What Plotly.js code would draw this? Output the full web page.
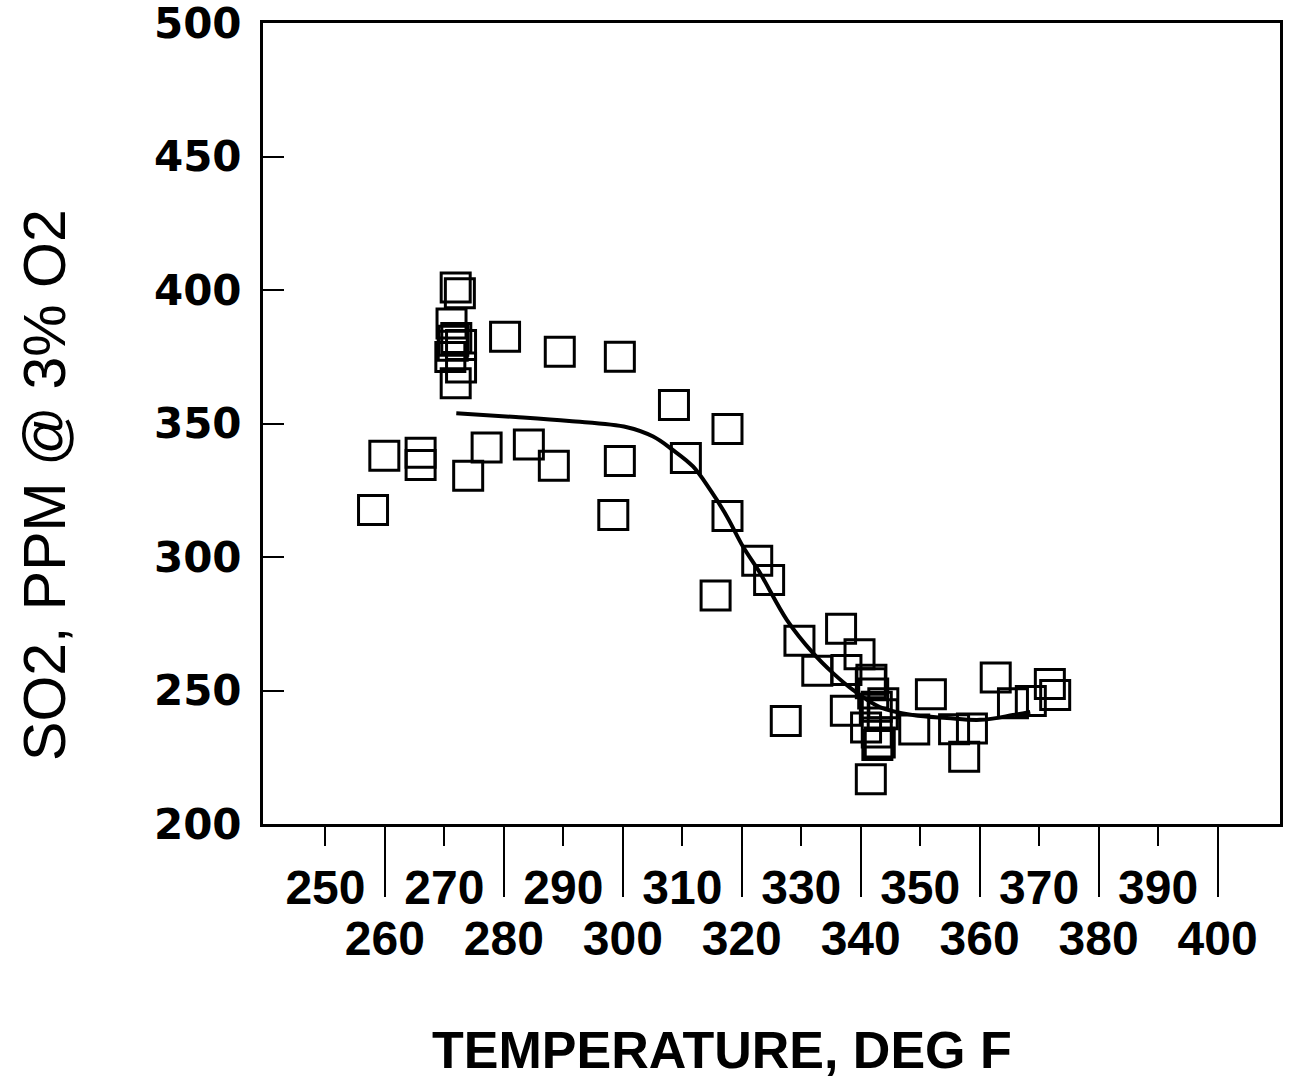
<!DOCTYPE html>
<html>
<head>
<meta charset="utf-8">
<script src="https://cdn.plot.ly/plotly-3.0.1.min.js"></script>
<style>
  html, body { margin: 0; padding: 0; background: #ffffff; }
  #chart { width: 1302px; height: 1078px; }
</style>
</head>
<body>
<div id="chart"></div>
<script>
// Measured SO2 concentrations (ppm @ 3% O2) against flue gas temperature (deg F)
const temperature = [
  258.0, 259.9, 266.0, 266.0, 274.0, 277.1, 284.2, 288.4, 280.2, 289.4,
  299.5, 299.5, 298.4, 308.6, 310.6, 317.6, 317.6, 315.6, 322.6, 324.6,
  329.7, 336.7, 332.7, 339.8, 337.6, 327.4, 337.5, 341.7, 342.1, 342.7,
  340.9, 342.7, 342.8, 341.7, 343.7, 341.8, 343.8, 343.2, 349.0, 351.8,
  355.7, 358.7, 357.4, 362.7, 365.6, 368.6, 371.8, 372.7,
  271.9, 272.6, 271.2, 271.4, 272.8, 271.0, 272.8, 271.9, 272.0, 271.5
];
const so2 = [
  317.6, 337.9, 339.0, 334.5, 330.4, 341.0, 342.1, 334.2, 382.5, 376.9,
  375.0, 336.0, 315.7, 356.9, 337.1, 347.9, 315.4, 285.6, 298.6, 291.4,
  268.6, 273.1, 257.4, 263.6, 257.7, 238.6, 242.4, 252.7, 248.9, 243.9,
  236.1, 234.3, 229.6, 216.8, 241.1, 254.0, 245.2, 230.5, 235.4, 248.6,
  235.5, 235.8, 225.2, 254.9, 245.2, 246.1, 252.4, 248.3,
  400.9, 398.8, 387.5, 379.1, 379.4, 374.9, 371.0, 365.1, 382.0, 381.0
];

// Fitted trend curve
const fitTemperature = [272.0, 282.0, 291.0, 300.7, 305.1, 308.4, 311.8, 314.7, 317.5, 320.2,
                        323.1, 327.6, 332.0, 335.3, 338.7, 343.2, 348.8, 354.5, 360.1, 365.6, 368.5];
const fitSO2 = [353.8, 352.4, 350.9, 348.6, 345.1, 340.1, 333.9, 325.1, 315.2, 303.9,
                293.9, 276.4, 264.0, 256.6, 250.2, 243.8, 240.8, 239.7, 239.0, 240.8, 242.0];

// Two staggered rows of x tick labels
const xTicksUpper = [250, 270, 290, 310, 330, 350, 370, 390];
const xTicksLower = [260, 280, 300, 320, 340, 360, 380, 400];
const yTicks = [200, 250, 300, 350, 400, 450, 500];

const xRange = [239.5, 410.5];
const tickFontX = { family: 'Liberation Sans, Arial, sans-serif', size: 48, color: '#000', weight: 'bold' };

const data = [
  {
    x: temperature, y: so2,
    type: 'scatter', mode: 'markers',
    marker: { symbol: 'square-open', size: 29, color: '#000', line: { width: 3, color: '#000' } },
    hoverinfo: 'x+y', showlegend: false
  },
  {
    x: fitTemperature, y: fitSO2,
    type: 'scatter', mode: 'lines',
    line: { color: '#000', width: 4, shape: 'spline', smoothing: 1 },
    hoverinfo: 'skip', showlegend: false
  },
  // carrier trace so the second (lower) tick row is drawn
  { x: [xRange[0]], y: [null], xaxis: 'x2', yaxis: 'y', type: 'scatter', mode: 'markers',
    showlegend: false, hoverinfo: 'skip' }
];

const layout = {
  width: 1302, height: 1078,
  margin: { l: 263, r: 22, t: 23, b: 254 },
  paper_bgcolor: '#fff', plot_bgcolor: '#fff',
  showlegend: false,
  xaxis: {
    range: xRange, tickmode: 'array', tickvals: xTicksUpper,
    ticktext: xTicksUpper.map(String),
    ticks: 'outside', ticklen: 19, tickwidth: 2, tickcolor: '#000',
    showline: true, linewidth: 3, linecolor: '#000', mirror: true,
    showgrid: false, zeroline: false,
    tickfont: tickFontX
  },
  xaxis2: {
    overlaying: 'x', anchor: 'y', side: 'bottom',
    range: xRange, tickmode: 'array', tickvals: xTicksLower,
    ticktext: xTicksLower.map(String),
    ticks: 'outside', ticklen: 72, tickwidth: 2, tickcolor: '#000',
    showline: false, showgrid: false, zeroline: false,
    tickfont: tickFontX
  },
  yaxis: {
    range: [199.999, 500.001], tickmode: 'array', tickvals: yTicks,
    ticktext: yTicks.map(String),
    ticks: 'inside', ticklen: 21, tickwidth: 2, tickcolor: '#000',
    showline: true, linewidth: 3, linecolor: '#000', mirror: true,
    showgrid: false, zeroline: false,
    ticklabelstandoff: 10, ticklabeloverflow: 'allow',
    tickfont: { family: 'DejaVu Sans, sans-serif', size: 42, color: '#000', weight: 'bold' }
  },
  annotations: [
    {
      text: 'TEMPERATURE, DEG F', showarrow: false,
      xref: 'paper', yref: 'paper', x: 0.4513, y: -0.282,
      xanchor: 'center', yanchor: 'middle',
      font: { family: 'Liberation Sans, Arial, sans-serif', size: 52, color: '#000', weight: 'bold' }
    },
    {
      text: 'SO2, PPM @ 3% O2', showarrow: false, textangle: -90,
      xref: 'paper', yref: 'paper', x: -0.2144, y: 0.4232,
      xanchor: 'center', yanchor: 'middle',
      font: { family: 'Liberation Sans, Arial, sans-serif', size: 59, color: '#000' }
    }
  ]
};

Plotly.newPlot('chart', data, layout, { staticPlot: true, displayModeBar: false });
</script>
</body>
</html>
